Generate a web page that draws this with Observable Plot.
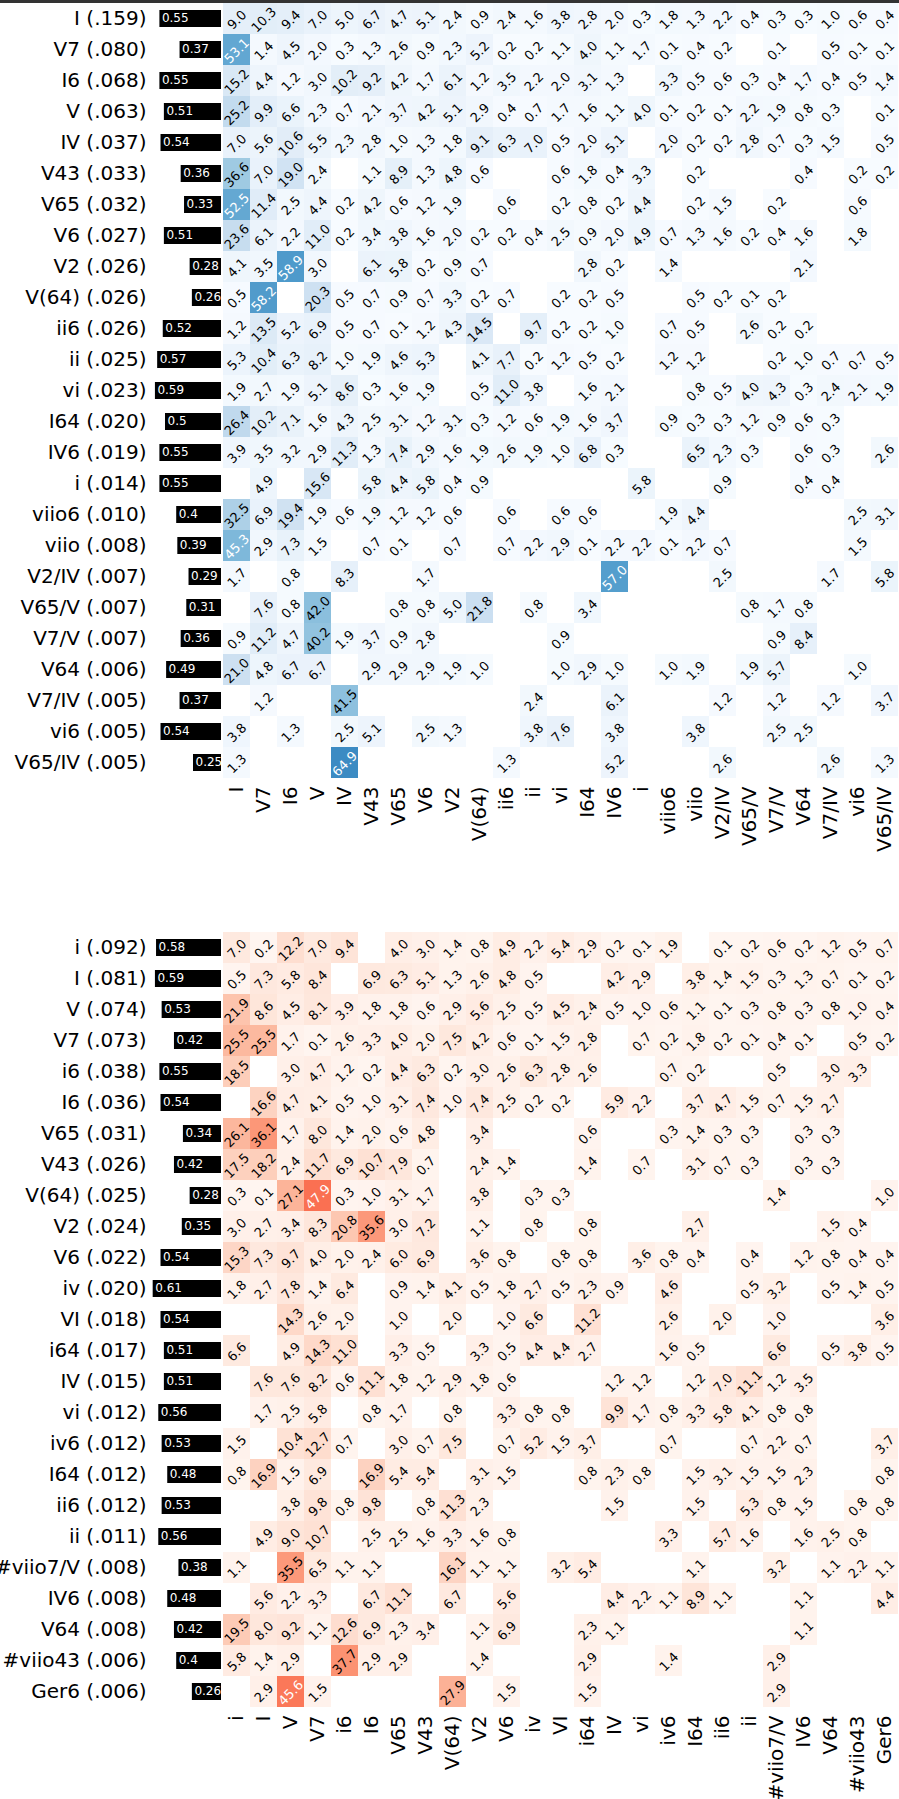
<!DOCTYPE html>
<html>
<head>
<meta charset="utf-8">
<script src="https://cdn.jsdelivr.net/npm/d3@7"></script>
<script src="https://cdn.jsdelivr.net/npm/@observablehq/plot@0.6"></script>
<style>
  html, body { margin: 0; padding: 0; background: white; }
  .topline { height: 3px; background: #333; }
  .wrap { position: relative; width: 899px; }
  .wrap .overlay { position: absolute; left: 0; top: 0; }
</style>
</head>
<body>
<div class="topline"></div>
<div id="major" class="wrap"></div>
<div id="minor" class="wrap"></div>
<script>
const _ = null;

// ---------- Major (top) ----------
const majorChords = ["I","V7","I6","V","IV","V43","V65","V6","V2","V(64)","ii6","ii","vi","I64","IV6","i","viio6","viio","V2/IV","V65/V","V7/V","V64","V7/IV","vi6","V65/IV"];
const majorFreq = [".159",".080",".068",".063",".037",".033",".032",".027",".026",".026",".026",".025",".023",".020",".019",".014",".010",".008",".007",".007",".007",".006",".005",".005",".005"];
const majorBar = [0.55,0.37,0.55,0.51,0.54,0.36,0.33,0.51,0.28,0.26,0.52,0.57,0.59,0.5,0.55,0.55,0.4,0.39,0.29,0.31,0.36,0.49,0.37,0.54,0.25];
const majorValues = [
  [9.0,10.3,9.4,7.0,5.0,6.7,4.7,5.1,2.4,0.9,2.4,1.6,3.8,2.8,2.0,0.3,1.8,1.3,2.2,0.4,0.3,0.3,1.0,0.6,0.4],
  [53.1,1.4,4.5,2.0,0.3,1.3,2.6,0.9,2.3,5.2,0.2,0.2,1.1,4.0,1.1,1.7,0.1,0.4,0.2,_,0.1,_,0.5,0.1,0.1],
  [15.2,4.4,1.2,3.0,10.2,9.2,4.2,1.7,6.1,1.2,3.5,2.2,2.0,3.1,1.3,_,3.3,0.5,0.6,0.3,0.4,1.7,0.4,0.5,1.4],
  [25.2,9.9,6.6,2.3,0.7,2.1,3.7,4.2,5.1,2.9,0.4,0.7,1.7,1.6,1.1,4.0,0.1,0.2,0.1,2.2,1.9,0.8,0.3,_,0.1],
  [7.0,5.6,10.6,5.5,2.3,2.8,1.0,1.3,1.8,9.1,6.3,7.0,0.5,2.0,5.1,_,2.0,0.2,0.2,2.8,0.7,0.3,1.5,_,0.5],
  [36.6,7.0,19.0,2.4,_,1.1,8.9,1.3,4.8,0.6,_,_,0.6,1.8,0.4,3.3,_,0.2,_,_,_,0.4,_,0.2,0.2],
  [52.5,11.4,2.5,4.4,0.2,4.2,0.6,1.2,1.9,_,0.6,_,0.2,0.8,0.2,4.4,_,0.2,1.5,_,0.2,_,_,0.6,_],
  [23.6,6.1,2.2,11.0,0.2,3.4,3.8,1.6,2.0,0.2,0.2,0.4,2.5,0.9,2.0,4.9,0.7,1.3,1.6,0.2,0.4,1.6,_,1.8,_],
  [4.1,3.5,58.9,3.0,_,6.1,5.8,0.2,0.9,0.7,_,_,_,2.8,0.2,_,1.4,_,_,_,_,2.1,_,_,_],
  [0.5,58.2,_,20.3,0.5,0.7,0.9,0.7,3.3,0.2,0.7,_,0.2,0.2,0.5,_,_,0.5,0.2,0.1,0.2,_,_,_,_],
  [1.2,13.5,5.2,6.9,0.5,0.7,0.1,1.2,4.3,14.5,_,9.7,0.2,0.2,1.0,_,0.7,0.5,_,2.6,0.2,0.2,_,_,_],
  [5.3,10.4,6.3,8.2,1.0,1.9,4.6,5.3,_,4.1,7.7,0.2,1.2,0.5,0.2,_,1.2,1.2,_,_,0.2,1.0,0.7,0.7,0.5],
  [1.9,2.7,1.9,5.1,8.6,0.3,1.6,1.9,_,0.5,11.0,3.8,_,1.6,2.1,_,_,0.8,0.5,4.0,4.3,0.3,2.4,2.1,1.9],
  [26.4,10.2,7.1,1.6,4.3,2.5,3.1,1.2,3.1,0.3,1.2,0.6,1.9,1.6,3.7,_,0.9,0.3,0.3,1.2,0.9,0.6,0.3,_,_],
  [3.9,3.5,3.2,2.9,11.3,1.3,7.4,2.9,1.6,1.9,2.6,1.9,1.0,6.8,0.3,_,_,6.5,2.3,0.3,_,0.6,0.3,_,2.6],
  [_,4.9,_,15.6,_,5.8,4.4,5.8,0.4,0.9,_,_,_,_,_,5.8,_,_,0.9,_,_,0.4,0.4,_,_],
  [32.5,6.9,19.4,1.9,0.6,1.9,1.2,1.2,0.6,_,0.6,_,0.6,0.6,_,_,1.9,4.4,_,_,_,_,_,2.5,3.1],
  [45.3,2.9,7.3,1.5,_,0.7,0.1,_,0.7,_,0.7,2.2,2.9,0.1,2.2,2.2,0.1,2.2,0.7,_,_,_,_,1.5,_],
  [1.7,_,0.8,_,8.3,_,_,1.7,_,_,_,_,_,_,57.0,_,_,_,2.5,_,_,_,1.7,_,5.8],
  [_,7.6,0.8,42.0,_,_,0.8,0.8,5.0,21.8,_,0.8,_,3.4,_,_,_,_,_,0.8,1.7,0.8,_,_,_],
  [0.9,11.2,4.7,40.2,1.9,3.7,0.9,2.8,_,_,_,_,0.9,_,_,_,_,_,_,_,0.9,8.4,_,_,_],
  [21.0,4.8,6.7,6.7,_,2.9,2.9,2.9,1.9,1.0,_,_,1.0,2.9,1.0,_,1.0,1.9,_,1.9,5.7,_,_,1.0,_],
  [_,1.2,_,_,41.5,_,_,_,_,_,_,2.4,_,_,6.1,_,_,_,1.2,_,1.2,_,1.2,_,3.7],
  [3.8,_,1.3,_,2.5,5.1,_,2.5,1.3,_,_,3.8,7.6,_,3.8,_,_,3.8,_,_,2.5,2.5,_,_,_],
  [1.3,_,_,_,64.9,_,_,_,_,_,1.3,_,_,_,5.2,_,_,_,2.6,_,_,_,2.6,_,1.3]
];

// ---------- Minor (bottom) ----------
const minorChords = ["i","I","V","V7","i6","I6","V65","V43","V(64)","V2","V6","iv","VI","i64","IV","vi","iv6","I64","ii6","ii","#viio7/V","IV6","V64","#viio43","Ger6"];
const minorFreq = [".092",".081",".074",".073",".038",".036",".031",".026",".025",".024",".022",".020",".018",".017",".015",".012",".012",".012",".012",".011",".008",".008",".008",".006",".006"];
const minorBar = [0.58,0.59,0.53,0.42,0.55,0.54,0.34,0.42,0.28,0.35,0.54,0.61,0.54,0.51,0.51,0.56,0.53,0.48,0.53,0.56,0.38,0.48,0.42,0.4,0.26];
const minorValues = [
  [7.0,0.2,12.2,7.0,9.4,_,4.0,3.0,1.4,0.8,4.9,2.2,5.4,2.9,0.2,0.1,1.9,_,0.1,0.2,0.6,0.2,1.2,0.5,0.7],
  [0.5,7.3,5.8,8.4,_,6.9,6.3,5.1,1.3,2.6,4.8,0.5,_,_,4.2,2.9,_,3.8,1.4,1.5,0.3,1.3,0.7,0.1,0.2],
  [21.9,8.6,4.5,8.1,3.9,1.8,1.8,0.6,2.9,5.6,2.5,0.5,4.5,2.4,0.5,1.0,0.6,1.1,0.1,0.3,0.8,0.3,0.8,1.0,0.4],
  [25.5,25.5,1.7,0.1,2.6,3.3,4.0,2.0,7.5,4.2,0.6,0.1,1.5,2.8,_,0.7,0.2,1.8,0.2,0.1,0.4,0.1,_,0.5,0.2],
  [18.5,_,3.0,4.7,1.2,0.2,4.4,6.3,0.2,3.0,2.6,6.3,2.8,2.6,_,_,0.7,0.2,_,_,0.5,_,3.0,3.3,_],
  [_,16.6,4.7,4.1,0.5,1.0,3.1,7.4,1.0,7.4,2.5,0.2,0.2,_,5.9,2.2,_,3.7,4.7,1.5,0.7,1.5,2.7,_,_],
  [26.1,36.1,1.7,8.0,1.4,2.0,0.6,4.8,_,3.4,_,_,_,0.6,_,_,0.3,1.4,0.3,0.3,_,0.3,0.3,_,_],
  [17.5,18.2,2.4,11.7,6.9,10.7,7.9,0.7,_,2.4,1.4,_,_,1.4,_,0.7,_,3.1,0.7,0.3,_,0.3,0.3,_,_],
  [0.3,0.1,27.1,47.9,0.3,1.0,3.1,1.7,_,3.8,_,0.3,0.3,_,_,_,_,_,_,_,1.4,_,_,_,1.0],
  [3.0,2.7,3.4,8.3,20.8,35.6,3.0,7.2,_,1.1,_,0.8,_,0.8,_,_,_,2.7,_,_,_,_,1.5,0.4,_],
  [15.3,7.3,9.7,4.0,2.0,2.4,6.0,6.9,_,3.6,0.8,_,0.8,0.8,_,3.6,0.8,0.4,_,0.4,_,1.2,0.8,0.4,0.4],
  [1.8,2.7,7.8,1.4,6.4,_,0.9,1.4,4.1,0.5,1.8,2.7,0.5,2.3,0.9,_,4.6,_,_,0.5,3.2,_,0.5,1.4,0.5],
  [_,_,14.3,2.6,2.0,_,1.0,_,2.0,_,1.0,6.6,_,11.2,_,_,2.6,_,2.0,_,1.0,_,_,_,3.6],
  [6.6,_,4.9,14.3,11.0,_,3.3,0.5,_,3.3,0.5,4.4,4.4,2.7,_,_,1.6,0.5,_,_,6.6,_,0.5,3.8,0.5],
  [_,7.6,7.6,8.2,0.6,11.1,1.8,1.2,2.9,1.8,0.6,_,_,_,1.2,1.2,_,1.2,7.0,11.1,1.2,3.5,_,_,_],
  [_,1.7,2.5,5.8,_,0.8,1.7,_,0.8,_,3.3,0.8,0.8,_,9.9,1.7,0.8,3.3,5.8,4.1,0.8,0.8,_,_,_],
  [1.5,_,10.4,12.7,0.7,_,3.0,0.7,7.5,_,0.7,5.2,1.5,3.7,_,_,0.7,_,_,0.7,2.2,0.7,_,_,3.7],
  [0.8,16.9,1.5,6.9,_,16.9,5.4,5.4,_,3.1,1.5,_,_,0.8,2.3,0.8,_,1.5,3.1,1.5,1.5,2.3,_,_,0.8],
  [_,_,3.8,9.8,0.8,9.8,_,0.8,11.3,2.3,_,_,_,_,1.5,_,_,1.5,_,5.3,0.8,1.5,_,0.8,0.8],
  [_,4.9,9.0,10.7,_,2.5,2.5,1.6,3.3,1.6,0.8,_,_,_,_,_,3.3,_,5.7,1.6,_,1.6,2.5,0.8,_],
  [1.1,_,35.5,6.5,1.1,1.1,_,_,16.1,1.1,1.1,_,3.2,5.4,_,_,_,1.1,_,_,3.2,_,1.1,2.2,1.1],
  [_,5.6,2.2,3.3,_,6.7,11.1,_,6.7,_,5.6,_,_,_,4.4,2.2,1.1,8.9,1.1,_,_,1.1,_,_,4.4],
  [19.5,8.0,9.2,1.1,12.6,6.9,2.3,3.4,_,1.1,6.9,_,_,2.3,1.1,_,_,_,_,_,_,1.1,_,_,_],
  [5.8,1.4,2.9,_,37.7,2.9,2.9,_,_,1.4,_,_,_,2.9,_,_,1.4,_,_,_,2.9,_,_,_,_],
  [_,2.9,45.6,1.5,_,_,_,_,27.9,_,1.5,_,_,1.5,_,_,_,_,_,_,2.9,_,_,_,_]
];

function drawHeatmap(container, chords, freq, bars, values, scheme, marginBottom) {
  const W = 899, left = 221, rowH = 31;
  const H = chords.length * rowH + marginBottom;
  const labels = chords.map((c, i) => `${c} (${freq[i]})`);
  const cells = [];
  values.forEach((row, i) => row.forEach((v, j) => {
    if (v != null) cells.push({row: labels[i], col: chords[j], v});
  }));
  const barData = bars.map((b, i) => ({row: labels[i], b}));
  const fmt = d => d.v.toFixed(1);

  const heat = Plot.plot({
    width: W, height: H,
    marginLeft: left, marginRight: 0, marginTop: 0, marginBottom,
    style: {fontFamily: "DejaVu Sans", fontSize: "20px", background: "white", color: "black"},
    x: {domain: chords, padding: 0, tickRotate: -90, tickSize: 0, tickPadding: 8, label: null},
    y: {domain: labels, padding: 0, tickSize: 0, tickPadding: 75, label: null},
    color: {type: "linear", domain: [0, 100], scheme},
    marks: [
      Plot.cell(cells, {x: "col", y: "row", fill: "v", inset: 0, shapeRendering: "crispEdges"}),
      Plot.text(cells.filter(d => d.v <= 45), {x: "col", y: "row", text: fmt, rotate: -45, fontSize: 13, fill: "black", dy: 1}),
      Plot.text(cells.filter(d => d.v > 45), {x: "col", y: "row", text: fmt, rotate: -45, fontSize: 13, fill: "white", dy: 1})
    ]
  });
  container.appendChild(heat);

  const barPlot = Plot.plot({
    width: left, height: H,
    marginLeft: 0, marginRight: 0, marginTop: 0, marginBottom,
    style: {fontFamily: "DejaVu Sans", background: "transparent"},
    x: {domain: [0, left / 112], range: [left, 0], axis: null},
    y: {domain: labels, paddingInner: 0.46, paddingOuter: 0.23, axis: null},
    marks: [
      Plot.barX(barData, {x: "b", y: "row", fill: "black"}),
      Plot.text(barData, {x: "b", y: "row", text: d => String(d.b), textAnchor: "start", dx: 2, dy: -1, fill: "white", fontSize: 12})
    ]
  });
  barPlot.classList.add("overlay");
  container.appendChild(barPlot);
}

drawHeatmap(document.getElementById("major"), majorChords, majorFreq, majorBar, majorValues, "blues", 154);
drawHeatmap(document.getElementById("minor"), minorChords, minorFreq, minorBar, minorValues, "reds", 92);
</script>
</body>
</html>
